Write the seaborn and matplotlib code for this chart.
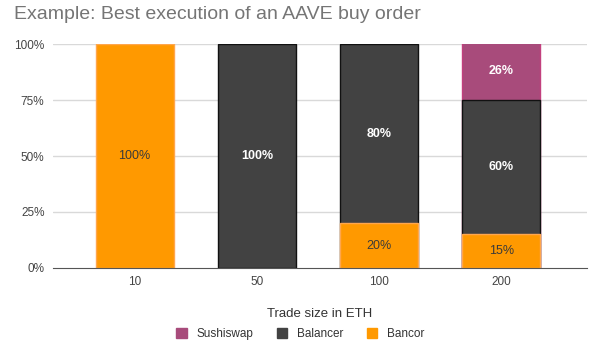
import pandas as pd
import matplotlib.pyplot as plt
from matplotlib.patches import Patch
from matplotlib.ticker import PercentFormatter
import seaborn as sns

trade_sizes = ['10', '50', '100', '200']
bancor = [100, 0, 20, 15]
balancer = [0, 100, 80, 60]
sushiswap = [0, 0, 0, 26]

series_names = ['Sushiswap', 'Balancer', 'Bancor']
colors = {'Sushiswap': '#a84b7b', 'Balancer': '#424242', 'Bancor': '#ff9900'}
edges = {'Sushiswap': '#c2407e', 'Balancer': '#111111', 'Bancor': '#ffa64d'}
label_colors = {'Sushiswap': 'white', 'Balancer': 'white', 'Bancor': '#3a3a3a'}

# stacking order bottom -> top
stack = [('Bancor', bancor), ('Balancer', balancer), ('Sushiswap', sushiswap)]

rows = []
for i, size in enumerate(trade_sizes):
	bottom = 0
	for name, vals in stack:
		v = vals[i]
		rows.append({'size': size, 'exchange': name, 'value': v,
					 'bottom': bottom, 'top': bottom + v})
		bottom += v
df = pd.DataFrame(rows)

sns.set_style('white')
plt.rcParams['font.family'] = ['Liberation Sans', 'DejaVu Sans']

fig = plt.figure(figsize=(6, 3.53), dpi=100)
ax = fig.add_axes([0.088, 0.241, 0.89, 0.634])

for yv in [0.25, 0.5, 0.75, 1.0]:
	ax.axhline(yv, color='#d9d9d9', lw=1, zorder=0)

# draw cumulative tops from the highest layer down so lower segments cover
for name, _ in reversed(stack):
	sub = df[(df.exchange == name) & (df.value > 0)].copy()
	sub['top_frac'] = sub['top'] / 100
	sns.barplot(data=sub, x='size', y='top_frac', order=trade_sizes, ax=ax,
				color=colors[name], edgecolor=edges[name], linewidth=1,
				width=0.64, saturation=1, zorder=2)

for _, r in df[df.value > 0].iterrows():
	x = trade_sizes.index(r['size'])
	y = (r['bottom'] + r['value'] / 2) / 100
	bold = label_colors[r['exchange']] == 'white'
	ax.text(x, y, f"{r['value']}%", ha='center', va='center', fontsize=9,
			color=label_colors[r['exchange']],
			fontweight='bold' if bold else 'normal', zorder=5)

ax.set_ylim(0, 1)
ax.set_xlim(-0.67, 3.7)
ax.yaxis.set_major_formatter(PercentFormatter(1.0, decimals=0))
ax.set_yticks([0, 0.25, 0.5, 0.75, 1.0])
ax.tick_params(axis='both', length=0, labelsize=8.5, colors='#444444', pad=6)
for s in ['top', 'right', 'left']:
	ax.spines[s].set_visible(False)
ax.spines['bottom'].set_color('#555555')
ax.spines['bottom'].set_zorder(6)
ax.set_ylabel('')
ax.set_xlabel('Trade size in ETH', fontsize=9.5, color='#333333', labelpad=14)

fig.text(0.023, 0.96, 'Example: Best execution of an AAVE buy order',
		 fontsize=14, color='#757575', ha='left', va='center')

handles = [Patch(facecolor=colors[n], edgecolor=colors[n], label=n) for n in series_names]
fig.legend(handles=handles, loc='center', bbox_to_anchor=(0.5, 0.053), ncol=3,
		   frameon=False, fontsize=8.5, handlelength=0.9, handleheight=0.9,
		   columnspacing=2.0, handletextpad=0.8, labelcolor='#333333')

plt.savefig('out.png', dpi=100)
